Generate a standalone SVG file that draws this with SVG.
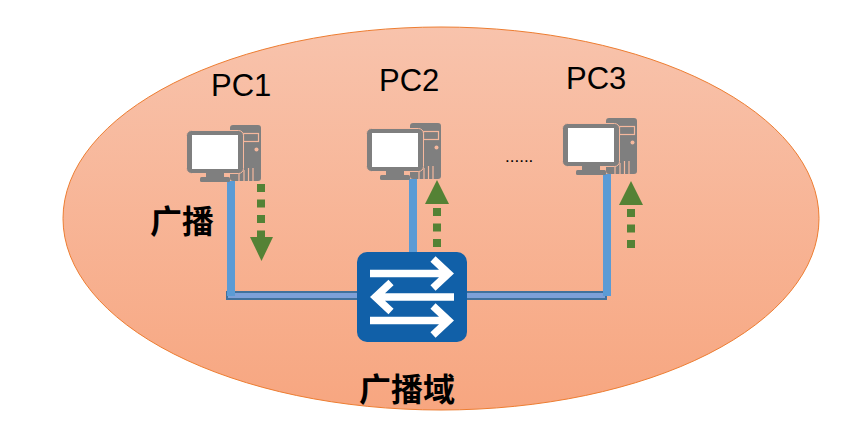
<svg xmlns="http://www.w3.org/2000/svg" width="859" height="448" viewBox="0 0 859 448">
<style>
.lbl{font-family:"Liberation Sans",Arial,sans-serif;font-size:31px;fill:#000}
.cjk{font-family:"Noto Sans CJK SC","Liberation Sans",sans-serif;font-size:32px;font-weight:700;fill:#000}
.v{fill:#5B9BD5}
.dash{stroke:#548235;stroke-width:8;stroke-dasharray:8 7.500;fill:none}
.head{fill:#548235}
.wire{fill:#7DA0D8;stroke:#41719C;stroke-width:2}
.arr{fill:none;stroke:#fff;stroke-width:7.500}
.cut{fill:none;stroke:#F6B89D;stroke-width:1.200}
</style>
<defs>
<linearGradient id="bg" x1="0" y1="0" x2="0" y2="1">
<stop offset="0" stop-color="#F8C3AC"/>
<stop offset="1" stop-color="#F7A680"/>
</linearGradient>
<g id="pc">
<rect x="230" y="125" width="31" height="56" rx="3" fill="#7F7F7F"/>
<rect x="243.500" y="133.500" width="15" height="8" class="cut"/>
<circle cx="256.500" cy="149.500" r="2" fill="#F6B89D"/>
<path class="cut" d="M253 168v13M248.500 168v13M244 170v11M239 173v8"/>
<rect x="186.500" y="130.500" width="57" height="43" rx="5" fill="#7F7F7F" stroke="#F6B89D"/>
<rect x="192" y="135" width="46" height="34" fill="#fff"/>
<rect x="206" y="173" width="18" height="4" fill="#7F7F7F"/>
<rect x="200" y="177" width="30" height="5" rx="1.500" fill="#7F7F7F"/>
</g>
</defs>
<ellipse cx="441" cy="218.500" rx="378" ry="191.500" fill="url(#bg)" stroke="#ED7D31" stroke-width="1"/>
<g id="connectors">
<rect class="wire" x="227" y="292" width="132" height="7"/>
<rect class="wire" x="466" y="292" width="140" height="7"/>
<rect class="v" x="227" y="181" width="8" height="115"/>
<rect class="v" x="409" y="179" width="8" height="76"/>
<rect class="v" x="603" y="174" width="8" height="122"/>
<path class="dash" d="M261 184V237"/>
<path class="head" d="M250 237h23l-11.500 24z"/>
<path class="dash" d="M437 247V204"/>
<path class="head" d="M425 204h24l-12-24z"/>
<path class="dash" d="M631 248V205"/>
<path class="head" d="M619 205h24l-12-24z"/>
</g>
<g id="pc1"><use href="#pc"/><text class="lbl" x="211" y="96">PC1</text></g>
<g id="pc2"><use href="#pc" x="180" y="-2"/><text class="lbl" x="379" y="91">PC2</text></g>
<g id="pc3"><use href="#pc" x="376" y="-7"/><text class="lbl" x="566" y="89">PC3</text></g>
<g id="switch">
<rect x="357" y="252" width="110" height="90" rx="10" fill="#1160A8"/>
<path class="arr" d="M370 273.500H448M433 259l15.500 14.500-15.500 14.500"/>
<path class="arr" d="M454 297H376M391 282.500l-15.500 14.500 15.500 14.500"/>
<path class="arr" d="M370 320.500H448M433 306l15.500 14.500-15.500 14.500"/>
</g>
<text class="lbl" x="505" y="162" style="font-size:17px">......</text>
<text class="cjk" x="150" y="233">广播</text>
<text class="cjk" x="359" y="401">广播域</text>
</svg>
